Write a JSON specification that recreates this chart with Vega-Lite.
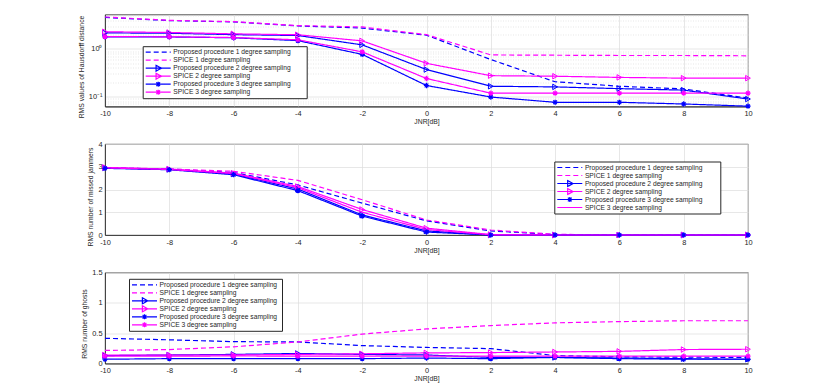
{
  "$schema": "https://vega.github.io/schema/vega-lite/v6.json",
  "padding": {"left": 77, "top": 10.5, "right": 5, "bottom": 5},
  "background": "white",
  "config": {
    "font": "Liberation Sans",
    "view": {"stroke": "#262626", "strokeWidth": 0.8},
    "axis": {"labelFont": "Liberation Sans", "labelFontSize": 7.4, "labelColor": "#262626", "titleFont": "Liberation Sans", "titleFontSize": 6.8, "titleFontWeight": "normal", "titleColor": "#262626", "domainColor": "#262626", "domainWidth": 0.8, "gridColor": "#dcdcdc", "gridWidth": 0.7, "ticks": false, "labelPadding": 3, "labelFlush": false, "labelOverlap": false},
    "legend": {"labelFont": "Liberation Sans", "labelFontSize": 6.7, "labelColor": "#262626", "symbolSize": 625, "clipHeight": 8.0, "rowPadding": 0, "labelOffset": 1.6, "padding": 2, "labelLimit": 400, "strokeColor": "#262626", "fillColor": "white", "symbolStrokeWidth": 1.2, "symbolFillColor": "transparent", "orient": "none", "titleOrient": "right", "titleFontSize": 6.7, "titleFont": "Liberation Sans"}
  },
  "datasets": {
    "haus": [
      {"s": "Proposed procedure 1 degree sampling", "x": -10, "y": 4.6}, {"s": "Proposed procedure 1 degree sampling", "x": -8, "y": 3.95}, {"s": "Proposed procedure 1 degree sampling", "x": -6, "y": 3.7}, {"s": "Proposed procedure 1 degree sampling", "x": -4, "y": 3.05}, {"s": "Proposed procedure 1 degree sampling", "x": -2, "y": 2.75}, {"s": "Proposed procedure 1 degree sampling", "x": 0, "y": 1.95}, {"s": "Proposed procedure 1 degree sampling", "x": 2, "y": 0.6}, {"s": "Proposed procedure 1 degree sampling", "x": 4, "y": 0.205}, {"s": "Proposed procedure 1 degree sampling", "x": 6, "y": 0.165}, {"s": "Proposed procedure 1 degree sampling", "x": 8, "y": 0.145}, {"s": "Proposed procedure 1 degree sampling", "x": 10, "y": 0.093},
      {"s": "SPICE 1 degree sampling", "x": -10, "y": 4.7}, {"s": "SPICE 1 degree sampling", "x": -8, "y": 4.0}, {"s": "SPICE 1 degree sampling", "x": -6, "y": 3.75}, {"s": "SPICE 1 degree sampling", "x": -4, "y": 3.1}, {"s": "SPICE 1 degree sampling", "x": -2, "y": 2.9}, {"s": "SPICE 1 degree sampling", "x": 0, "y": 2.0}, {"s": "SPICE 1 degree sampling", "x": 2, "y": 0.75}, {"s": "SPICE 1 degree sampling", "x": 4, "y": 0.74}, {"s": "SPICE 1 degree sampling", "x": 6, "y": 0.73}, {"s": "SPICE 1 degree sampling", "x": 8, "y": 0.73}, {"s": "SPICE 1 degree sampling", "x": 10, "y": 0.72},
      {"s": "Proposed procedure 2 degree sampling", "x": -10, "y": 2.18}, {"s": "Proposed procedure 2 degree sampling", "x": -8, "y": 2.14}, {"s": "Proposed procedure 2 degree sampling", "x": -6, "y": 2.0}, {"s": "Proposed procedure 2 degree sampling", "x": -4, "y": 1.92}, {"s": "Proposed procedure 2 degree sampling", "x": -2, "y": 1.22}, {"s": "Proposed procedure 2 degree sampling", "x": 0, "y": 0.37}, {"s": "Proposed procedure 2 degree sampling", "x": 2, "y": 0.165}, {"s": "Proposed procedure 2 degree sampling", "x": 4, "y": 0.16}, {"s": "Proposed procedure 2 degree sampling", "x": 6, "y": 0.147}, {"s": "Proposed procedure 2 degree sampling", "x": 8, "y": 0.137}, {"s": "Proposed procedure 2 degree sampling", "x": 10, "y": 0.089},
      {"s": "SPICE 2 degree sampling", "x": -10, "y": 2.3}, {"s": "SPICE 2 degree sampling", "x": -8, "y": 2.22}, {"s": "SPICE 2 degree sampling", "x": -6, "y": 2.08}, {"s": "SPICE 2 degree sampling", "x": -4, "y": 1.99}, {"s": "SPICE 2 degree sampling", "x": -2, "y": 1.48}, {"s": "SPICE 2 degree sampling", "x": 0, "y": 0.5}, {"s": "SPICE 2 degree sampling", "x": 2, "y": 0.275}, {"s": "SPICE 2 degree sampling", "x": 4, "y": 0.268}, {"s": "SPICE 2 degree sampling", "x": 6, "y": 0.253}, {"s": "SPICE 2 degree sampling", "x": 8, "y": 0.244}, {"s": "SPICE 2 degree sampling", "x": 10, "y": 0.244},
      {"s": "Proposed procedure 3 degree sampling", "x": -10, "y": 1.8}, {"s": "Proposed procedure 3 degree sampling", "x": -8, "y": 1.79}, {"s": "Proposed procedure 3 degree sampling", "x": -6, "y": 1.72}, {"s": "Proposed procedure 3 degree sampling", "x": -4, "y": 1.5}, {"s": "Proposed procedure 3 degree sampling", "x": -2, "y": 0.77}, {"s": "Proposed procedure 3 degree sampling", "x": 0, "y": 0.171}, {"s": "Proposed procedure 3 degree sampling", "x": 2, "y": 0.098}, {"s": "Proposed procedure 3 degree sampling", "x": 4, "y": 0.076}, {"s": "Proposed procedure 3 degree sampling", "x": 6, "y": 0.076}, {"s": "Proposed procedure 3 degree sampling", "x": 8, "y": 0.07}, {"s": "Proposed procedure 3 degree sampling", "x": 10, "y": 0.063},
      {"s": "SPICE 3 degree sampling", "x": -10, "y": 1.82}, {"s": "SPICE 3 degree sampling", "x": -8, "y": 1.8}, {"s": "SPICE 3 degree sampling", "x": -6, "y": 1.74}, {"s": "SPICE 3 degree sampling", "x": -4, "y": 1.56}, {"s": "SPICE 3 degree sampling", "x": -2, "y": 0.87}, {"s": "SPICE 3 degree sampling", "x": 0, "y": 0.24}, {"s": "SPICE 3 degree sampling", "x": 2, "y": 0.118}, {"s": "SPICE 3 degree sampling", "x": 4, "y": 0.118}, {"s": "SPICE 3 degree sampling", "x": 6, "y": 0.118}, {"s": "SPICE 3 degree sampling", "x": 8, "y": 0.118}, {"s": "SPICE 3 degree sampling", "x": 10, "y": 0.118}
    ],
    "missed": [
      {"s": "Proposed procedure 1 degree sampling", "x": -10, "y": 2.95}, {"s": "Proposed procedure 1 degree sampling", "x": -8, "y": 2.9}, {"s": "Proposed procedure 1 degree sampling", "x": -6, "y": 2.75}, {"s": "Proposed procedure 1 degree sampling", "x": -4, "y": 2.2}, {"s": "Proposed procedure 1 degree sampling", "x": -2, "y": 1.4}, {"s": "Proposed procedure 1 degree sampling", "x": 0, "y": 0.62}, {"s": "Proposed procedure 1 degree sampling", "x": 2, "y": 0.18}, {"s": "Proposed procedure 1 degree sampling", "x": 4, "y": 0.02}, {"s": "Proposed procedure 1 degree sampling", "x": 6, "y": 0}, {"s": "Proposed procedure 1 degree sampling", "x": 8, "y": 0}, {"s": "Proposed procedure 1 degree sampling", "x": 10, "y": 0},
      {"s": "SPICE 1 degree sampling", "x": -10, "y": 2.95}, {"s": "SPICE 1 degree sampling", "x": -8, "y": 2.9}, {"s": "SPICE 1 degree sampling", "x": -6, "y": 2.8}, {"s": "SPICE 1 degree sampling", "x": -4, "y": 2.4}, {"s": "SPICE 1 degree sampling", "x": -2, "y": 1.55}, {"s": "SPICE 1 degree sampling", "x": 0, "y": 0.66}, {"s": "SPICE 1 degree sampling", "x": 2, "y": 0.22}, {"s": "SPICE 1 degree sampling", "x": 4, "y": 0.03}, {"s": "SPICE 1 degree sampling", "x": 6, "y": 0}, {"s": "SPICE 1 degree sampling", "x": 8, "y": 0}, {"s": "SPICE 1 degree sampling", "x": 10, "y": 0},
      {"s": "Proposed procedure 2 degree sampling", "x": -10, "y": 2.95}, {"s": "Proposed procedure 2 degree sampling", "x": -8, "y": 2.88}, {"s": "Proposed procedure 2 degree sampling", "x": -6, "y": 2.68}, {"s": "Proposed procedure 2 degree sampling", "x": -4, "y": 2.02}, {"s": "Proposed procedure 2 degree sampling", "x": -2, "y": 0.88}, {"s": "Proposed procedure 2 degree sampling", "x": 0, "y": 0.18}, {"s": "Proposed procedure 2 degree sampling", "x": 2, "y": 0}, {"s": "Proposed procedure 2 degree sampling", "x": 4, "y": 0}, {"s": "Proposed procedure 2 degree sampling", "x": 6, "y": 0}, {"s": "Proposed procedure 2 degree sampling", "x": 8, "y": 0}, {"s": "Proposed procedure 2 degree sampling", "x": 10, "y": 0},
      {"s": "SPICE 2 degree sampling", "x": -10, "y": 2.97}, {"s": "SPICE 2 degree sampling", "x": -8, "y": 2.9}, {"s": "SPICE 2 degree sampling", "x": -6, "y": 2.72}, {"s": "SPICE 2 degree sampling", "x": -4, "y": 2.13}, {"s": "SPICE 2 degree sampling", "x": -2, "y": 1.12}, {"s": "SPICE 2 degree sampling", "x": 0, "y": 0.3}, {"s": "SPICE 2 degree sampling", "x": 2, "y": 0.02}, {"s": "SPICE 2 degree sampling", "x": 4, "y": 0}, {"s": "SPICE 2 degree sampling", "x": 6, "y": 0}, {"s": "SPICE 2 degree sampling", "x": 8, "y": 0}, {"s": "SPICE 2 degree sampling", "x": 10, "y": 0},
      {"s": "Proposed procedure 3 degree sampling", "x": -10, "y": 2.93}, {"s": "Proposed procedure 3 degree sampling", "x": -8, "y": 2.87}, {"s": "Proposed procedure 3 degree sampling", "x": -6, "y": 2.65}, {"s": "Proposed procedure 3 degree sampling", "x": -4, "y": 1.95}, {"s": "Proposed procedure 3 degree sampling", "x": -2, "y": 0.83}, {"s": "Proposed procedure 3 degree sampling", "x": 0, "y": 0.13}, {"s": "Proposed procedure 3 degree sampling", "x": 2, "y": 0}, {"s": "Proposed procedure 3 degree sampling", "x": 4, "y": 0}, {"s": "Proposed procedure 3 degree sampling", "x": 6, "y": 0}, {"s": "Proposed procedure 3 degree sampling", "x": 8, "y": 0}, {"s": "Proposed procedure 3 degree sampling", "x": 10, "y": 0},
      {"s": "SPICE 3 degree sampling", "x": -10, "y": 2.95}, {"s": "SPICE 3 degree sampling", "x": -8, "y": 2.88}, {"s": "SPICE 3 degree sampling", "x": -6, "y": 2.7}, {"s": "SPICE 3 degree sampling", "x": -4, "y": 2.08}, {"s": "SPICE 3 degree sampling", "x": -2, "y": 1.0}, {"s": "SPICE 3 degree sampling", "x": 0, "y": 0.24}, {"s": "SPICE 3 degree sampling", "x": 2, "y": 0.01}, {"s": "SPICE 3 degree sampling", "x": 4, "y": 0}, {"s": "SPICE 3 degree sampling", "x": 6, "y": 0}, {"s": "SPICE 3 degree sampling", "x": 8, "y": 0}, {"s": "SPICE 3 degree sampling", "x": 10, "y": 0}
    ],
    "ghosts": [
      {"s": "Proposed procedure 1 degree sampling", "x": -10, "y": 0.415}, {"s": "Proposed procedure 1 degree sampling", "x": -8, "y": 0.39}, {"s": "Proposed procedure 1 degree sampling", "x": -6, "y": 0.36}, {"s": "Proposed procedure 1 degree sampling", "x": -4, "y": 0.355}, {"s": "Proposed procedure 1 degree sampling", "x": -2, "y": 0.295}, {"s": "Proposed procedure 1 degree sampling", "x": 0, "y": 0.265}, {"s": "Proposed procedure 1 degree sampling", "x": 2, "y": 0.245}, {"s": "Proposed procedure 1 degree sampling", "x": 4, "y": 0.13}, {"s": "Proposed procedure 1 degree sampling", "x": 6, "y": 0.11}, {"s": "Proposed procedure 1 degree sampling", "x": 8, "y": 0.105}, {"s": "Proposed procedure 1 degree sampling", "x": 10, "y": 0.1},
      {"s": "SPICE 1 degree sampling", "x": -10, "y": 0.215}, {"s": "SPICE 1 degree sampling", "x": -8, "y": 0.23}, {"s": "SPICE 1 degree sampling", "x": -6, "y": 0.275}, {"s": "SPICE 1 degree sampling", "x": -4, "y": 0.355}, {"s": "SPICE 1 degree sampling", "x": -2, "y": 0.485}, {"s": "SPICE 1 degree sampling", "x": 0, "y": 0.57}, {"s": "SPICE 1 degree sampling", "x": 2, "y": 0.625}, {"s": "SPICE 1 degree sampling", "x": 4, "y": 0.67}, {"s": "SPICE 1 degree sampling", "x": 6, "y": 0.69}, {"s": "SPICE 1 degree sampling", "x": 8, "y": 0.705}, {"s": "SPICE 1 degree sampling", "x": 10, "y": 0.705},
      {"s": "Proposed procedure 2 degree sampling", "x": -10, "y": 0.13}, {"s": "Proposed procedure 2 degree sampling", "x": -8, "y": 0.14}, {"s": "Proposed procedure 2 degree sampling", "x": -6, "y": 0.15}, {"s": "Proposed procedure 2 degree sampling", "x": -4, "y": 0.165}, {"s": "Proposed procedure 2 degree sampling", "x": -2, "y": 0.15}, {"s": "Proposed procedure 2 degree sampling", "x": 0, "y": 0.14}, {"s": "Proposed procedure 2 degree sampling", "x": 2, "y": 0.1}, {"s": "Proposed procedure 2 degree sampling", "x": 4, "y": 0.1}, {"s": "Proposed procedure 2 degree sampling", "x": 6, "y": 0.09}, {"s": "Proposed procedure 2 degree sampling", "x": 8, "y": 0.08}, {"s": "Proposed procedure 2 degree sampling", "x": 10, "y": 0.07},
      {"s": "SPICE 2 degree sampling", "x": -10, "y": 0.14}, {"s": "SPICE 2 degree sampling", "x": -8, "y": 0.14}, {"s": "SPICE 2 degree sampling", "x": -6, "y": 0.14}, {"s": "SPICE 2 degree sampling", "x": -4, "y": 0.15}, {"s": "SPICE 2 degree sampling", "x": -2, "y": 0.16}, {"s": "SPICE 2 degree sampling", "x": 0, "y": 0.175}, {"s": "SPICE 2 degree sampling", "x": 2, "y": 0.18}, {"s": "SPICE 2 degree sampling", "x": 4, "y": 0.19}, {"s": "SPICE 2 degree sampling", "x": 6, "y": 0.2}, {"s": "SPICE 2 degree sampling", "x": 8, "y": 0.23}, {"s": "SPICE 2 degree sampling", "x": 10, "y": 0.235},
      {"s": "Proposed procedure 3 degree sampling", "x": -10, "y": 0.07}, {"s": "Proposed procedure 3 degree sampling", "x": -8, "y": 0.08}, {"s": "Proposed procedure 3 degree sampling", "x": -6, "y": 0.08}, {"s": "Proposed procedure 3 degree sampling", "x": -4, "y": 0.08}, {"s": "Proposed procedure 3 degree sampling", "x": -2, "y": 0.08}, {"s": "Proposed procedure 3 degree sampling", "x": 0, "y": 0.09}, {"s": "Proposed procedure 3 degree sampling", "x": 2, "y": 0.08}, {"s": "Proposed procedure 3 degree sampling", "x": 4, "y": 0.1}, {"s": "Proposed procedure 3 degree sampling", "x": 6, "y": 0.08}, {"s": "Proposed procedure 3 degree sampling", "x": 8, "y": 0.07}, {"s": "Proposed procedure 3 degree sampling", "x": 10, "y": 0.07},
      {"s": "SPICE 3 degree sampling", "x": -10, "y": 0.12}, {"s": "SPICE 3 degree sampling", "x": -8, "y": 0.12}, {"s": "SPICE 3 degree sampling", "x": -6, "y": 0.125}, {"s": "SPICE 3 degree sampling", "x": -4, "y": 0.12}, {"s": "SPICE 3 degree sampling", "x": -2, "y": 0.12}, {"s": "SPICE 3 degree sampling", "x": 0, "y": 0.12}, {"s": "SPICE 3 degree sampling", "x": 2, "y": 0.12}, {"s": "SPICE 3 degree sampling", "x": 4, "y": 0.12}, {"s": "SPICE 3 degree sampling", "x": 6, "y": 0.12}, {"s": "SPICE 3 degree sampling", "x": 8, "y": 0.12}, {"s": "SPICE 3 degree sampling", "x": 10, "y": 0.12}
    ]
  },
  "vconcat": [
    {
      "width": 643, "height": 92,
      "data": {"name": "haus"},
      "encoding": {
        "x": {"field": "x", "type": "quantitative", "scale": {"domain": [-10, 10], "nice": false, "zero": false}, "axis": {"title": "JNR[dB]", "values": [-10, -8, -6, -4, -2, 0, 2, 4, 6, 8, 10], "labelExpr": "'' + datum.value", "titlePadding": 2}},
        "y": {"field": "y", "type": "quantitative", "scale": {"type": "log", "domain": [0.062, 5.3], "nice": false, "zero": false}, "axis": {"title": "RMS values of Hausdorff distance", "titleY": 52, "values": [0.07, 0.08, 0.09, 0.1, 0.2, 0.3, 0.4, 0.5, 0.6, 0.7, 0.8, 0.9, 1, 2, 3, 4, 5], "labelExpr": "datum.value == 1 ? '10\u2070' : (datum.value == 0.1 ? '10\u207b\u00b9' : '')", "gridDash": {"condition": {"test": "datum.value == 1 || datum.value == 0.1", "value": []}, "value": [1, 1.5]}, "titlePadding": 4}}
      },
      "layer": [
        {"mark": {"type": "line", "strokeWidth": 1.2, "clip": false},
         "encoding": {
           "color": {"field": "s", "type": "nominal", "scale": {"domain": ["Proposed procedure 1 degree sampling", "SPICE 1 degree sampling", "Proposed procedure 2 degree sampling", "SPICE 2 degree sampling", "Proposed procedure 3 degree sampling", "SPICE 3 degree sampling"], "range": ["#0000ff", "#ff00ff", "#0000ff", "#ff00ff", "#0000ff", "#ff00ff"]}},
           "strokeDash": {"field": "s", "type": "nominal", "scale": {"domain": ["Proposed procedure 1 degree sampling", "SPICE 1 degree sampling", "Proposed procedure 2 degree sampling", "SPICE 2 degree sampling", "Proposed procedure 3 degree sampling", "SPICE 3 degree sampling"], "range": [[5, 3], [5, 3], [1, 0], [1, 0], [1, 0], [1, 0]]}}
         }},
        {"transform": [{"filter": {"field": "s", "oneOf": ["Proposed procedure 2 degree sampling", "SPICE 2 degree sampling"]}}],
         "mark": {"type": "point", "shape": "triangle-right", "size": 30, "strokeWidth": 1, "filled": false, "opacity": 1},
         "encoding": {"color": {"field": "s", "type": "nominal", "scale": {"domain": ["Proposed procedure 1 degree sampling", "SPICE 1 degree sampling", "Proposed procedure 2 degree sampling", "SPICE 2 degree sampling", "Proposed procedure 3 degree sampling", "SPICE 3 degree sampling"], "range": ["#0000ff", "#ff00ff", "#0000ff", "#ff00ff", "#0000ff", "#ff00ff"]}}}},
        {"transform": [{"filter": {"field": "s", "oneOf": ["Proposed procedure 3 degree sampling", "SPICE 3 degree sampling"]}}],
         "mark": {"type": "point", "shape": "M-1,0H1M0,-1V1M-0.7,-0.7L0.7,0.7M-0.7,0.7L0.7,-0.7", "size": 28, "strokeWidth": 1.2, "filled": false, "opacity": 1},
         "encoding": {"color": {"field": "s", "type": "nominal", "scale": {"domain": ["Proposed procedure 1 degree sampling", "SPICE 1 degree sampling", "Proposed procedure 2 degree sampling", "SPICE 2 degree sampling", "Proposed procedure 3 degree sampling", "SPICE 3 degree sampling"], "range": ["#0000ff", "#ff00ff", "#0000ff", "#ff00ff", "#0000ff", "#ff00ff"]}}}},
        {"transform": [{"filter": "false"}],
         "mark": {"type": "point", "filled": false, "opacity": 1},
         "encoding": {
           "color": {"field": "s", "type": "nominal", "scale": {"domain": ["Proposed procedure 1 degree sampling", "SPICE 1 degree sampling", "Proposed procedure 2 degree sampling", "SPICE 2 degree sampling", "Proposed procedure 3 degree sampling", "SPICE 3 degree sampling"], "range": ["#0000ff", "#ff00ff", "#0000ff", "#ff00ff", "#0000ff", "#ff00ff"]}, "legend": {"title": "\u00a0", "titlePadding": 13.8, "legendX": 37.7, "legendY": 31.7}},
           "strokeDash": {"field": "s", "type": "nominal", "scale": {"domain": ["Proposed procedure 1 degree sampling", "SPICE 1 degree sampling", "Proposed procedure 2 degree sampling", "SPICE 2 degree sampling", "Proposed procedure 3 degree sampling", "SPICE 3 degree sampling"], "range": [[5, 3], [5, 3], [1, 0], [1, 0], [1, 0], [1, 0]]}, "legend": {"title": "\u00a0", "titlePadding": 13.8, "legendX": 37.7, "legendY": 31.7}},
           "shape": {"field": "s", "type": "nominal", "scale": {"domain": ["Proposed procedure 1 degree sampling", "SPICE 1 degree sampling", "Proposed procedure 2 degree sampling", "SPICE 2 degree sampling", "Proposed procedure 3 degree sampling", "SPICE 3 degree sampling"], "range": ["M-1,0H1", "M-1,0H1", "M-1,0H1M-0.17,-0.24L0.26,0L-0.17,0.24Z", "M-1,0H1M-0.17,-0.24L0.26,0L-0.17,0.24Z", "M-1,0H1M0,-0.2V0.2M-0.15,-0.15L0.15,0.15M-0.15,0.15L0.15,-0.15", "M-1,0H1M0,-0.2V0.2M-0.15,-0.15L0.15,0.15M-0.15,0.15L0.15,-0.15"]}, "legend": {"title": "\u00a0", "titlePadding": 13.8, "legendX": 37.7, "legendY": 31.7}}
         }}
      ]
    },
    {
      "width": 643, "height": 91,
      "data": {"name": "missed"},
      "encoding": {
        "x": {"field": "x", "type": "quantitative", "scale": {"domain": [-10, 10], "nice": false, "zero": false}, "axis": {"title": "JNR[dB]", "values": [-10, -8, -6, -4, -2, 0, 2, 4, 6, 8, 10], "labelExpr": "'' + datum.value", "titlePadding": 2}},
        "y": {"field": "y", "type": "quantitative", "scale": {"domain": [0, 4], "nice": false}, "axis": {"title": "RMS number of missed jammers", "titleY": 52.5, "values": [0, 1, 2, 3, 4], "labelExpr": "'' + datum.value", "titlePadding": 4}}
      },
      "layer": [
        {"mark": {"type": "line", "strokeWidth": 1.2, "clip": false},
         "encoding": {
           "color": {"field": "s", "type": "nominal", "scale": {"domain": ["Proposed procedure 1 degree sampling", "SPICE 1 degree sampling", "Proposed procedure 2 degree sampling", "SPICE 2 degree sampling", "Proposed procedure 3 degree sampling", "SPICE 3 degree sampling"], "range": ["#0000ff", "#ff00ff", "#0000ff", "#ff00ff", "#0000ff", "#ff00ff"]}},
           "strokeDash": {"field": "s", "type": "nominal", "scale": {"domain": ["Proposed procedure 1 degree sampling", "SPICE 1 degree sampling", "Proposed procedure 2 degree sampling", "SPICE 2 degree sampling", "Proposed procedure 3 degree sampling", "SPICE 3 degree sampling"], "range": [[5, 3], [5, 3], [1, 0], [1, 0], [1, 0], [1, 0]]}}
         }},
        {"transform": [{"filter": {"field": "s", "oneOf": ["Proposed procedure 2 degree sampling", "SPICE 2 degree sampling"]}}],
         "mark": {"type": "point", "shape": "triangle-right", "size": 30, "strokeWidth": 1, "filled": false, "opacity": 1},
         "encoding": {"color": {"field": "s", "type": "nominal", "scale": {"domain": ["Proposed procedure 1 degree sampling", "SPICE 1 degree sampling", "Proposed procedure 2 degree sampling", "SPICE 2 degree sampling", "Proposed procedure 3 degree sampling", "SPICE 3 degree sampling"], "range": ["#0000ff", "#ff00ff", "#0000ff", "#ff00ff", "#0000ff", "#ff00ff"]}}}},
        {"transform": [{"filter": {"field": "s", "oneOf": ["Proposed procedure 3 degree sampling"]}}],
         "mark": {"type": "point", "shape": "M-1,0H1M0,-1V1M-0.7,-0.7L0.7,0.7M-0.7,0.7L0.7,-0.7", "size": 28, "strokeWidth": 1.2, "filled": false, "opacity": 1},
         "encoding": {"color": {"field": "s", "type": "nominal", "scale": {"domain": ["Proposed procedure 1 degree sampling", "SPICE 1 degree sampling", "Proposed procedure 2 degree sampling", "SPICE 2 degree sampling", "Proposed procedure 3 degree sampling", "SPICE 3 degree sampling"], "range": ["#0000ff", "#ff00ff", "#0000ff", "#ff00ff", "#0000ff", "#ff00ff"]}}}},
        {"transform": [{"filter": "false"}],
         "mark": {"type": "point", "filled": false, "opacity": 1},
         "encoding": {
           "color": {"field": "s", "type": "nominal", "scale": {"domain": ["Proposed procedure 1 degree sampling", "SPICE 1 degree sampling", "Proposed procedure 2 degree sampling", "SPICE 2 degree sampling", "Proposed procedure 3 degree sampling", "SPICE 3 degree sampling"], "range": ["#0000ff", "#ff00ff", "#0000ff", "#ff00ff", "#0000ff", "#ff00ff"]}, "legend": {"title": "\u00a0", "titlePadding": 15.5, "legendX": 449.3, "legendY": 17.5}},
           "strokeDash": {"field": "s", "type": "nominal", "scale": {"domain": ["Proposed procedure 1 degree sampling", "SPICE 1 degree sampling", "Proposed procedure 2 degree sampling", "SPICE 2 degree sampling", "Proposed procedure 3 degree sampling", "SPICE 3 degree sampling"], "range": [[5, 3], [5, 3], [1, 0], [1, 0], [1, 0], [1, 0]]}, "legend": {"title": "\u00a0", "titlePadding": 15.5, "legendX": 449.3, "legendY": 17.5}},
           "shape": {"field": "s", "type": "nominal", "scale": {"domain": ["Proposed procedure 1 degree sampling", "SPICE 1 degree sampling", "Proposed procedure 2 degree sampling", "SPICE 2 degree sampling", "Proposed procedure 3 degree sampling", "SPICE 3 degree sampling"], "range": ["M-1,0H1", "M-1,0H1", "M-1,0H1M-0.17,-0.24L0.26,0L-0.17,0.24Z", "M-1,0H1M-0.17,-0.24L0.26,0L-0.17,0.24Z", "M-1,0H1M0,-0.2V0.2M-0.15,-0.15L0.15,0.15M-0.15,0.15L0.15,-0.15", "M-1,0H1"]}, "legend": {"title": "\u00a0", "titlePadding": 15.5, "legendX": 449.3, "legendY": 17.5}}
         }}
      ]
    },
    {
      "width": 643, "height": 91,
      "data": {"name": "ghosts"},
      "encoding": {
        "x": {"field": "x", "type": "quantitative", "scale": {"domain": [-10, 10], "nice": false, "zero": false}, "axis": {"title": "JNR[dB]", "values": [-10, -8, -6, -4, -2, 0, 2, 4, 6, 8, 10], "labelExpr": "'' + datum.value", "titlePadding": 2}},
        "y": {"field": "y", "type": "quantitative", "scale": {"domain": [0, 1.5], "nice": false}, "axis": {"title": "RMS number of ghosts", "titleY": 51, "values": [0, 0.5, 1, 1.5], "labelExpr": "'' + datum.value", "titlePadding": 4}}
      },
      "layer": [
        {"mark": {"type": "line", "strokeWidth": 1.2, "clip": false},
         "encoding": {
           "color": {"field": "s", "type": "nominal", "scale": {"domain": ["Proposed procedure 1 degree sampling", "SPICE 1 degree sampling", "Proposed procedure 2 degree sampling", "SPICE 2 degree sampling", "Proposed procedure 3 degree sampling", "SPICE 3 degree sampling"], "range": ["#0000ff", "#ff00ff", "#0000ff", "#ff00ff", "#0000ff", "#ff00ff"]}},
           "strokeDash": {"field": "s", "type": "nominal", "scale": {"domain": ["Proposed procedure 1 degree sampling", "SPICE 1 degree sampling", "Proposed procedure 2 degree sampling", "SPICE 2 degree sampling", "Proposed procedure 3 degree sampling", "SPICE 3 degree sampling"], "range": [[5, 3], [5, 3], [1, 0], [1, 0], [1, 0], [1, 0]]}}
         }},
        {"transform": [{"filter": {"field": "s", "oneOf": ["Proposed procedure 2 degree sampling", "SPICE 2 degree sampling"]}}],
         "mark": {"type": "point", "shape": "triangle-right", "size": 30, "strokeWidth": 1, "filled": false, "opacity": 1},
         "encoding": {"color": {"field": "s", "type": "nominal", "scale": {"domain": ["Proposed procedure 1 degree sampling", "SPICE 1 degree sampling", "Proposed procedure 2 degree sampling", "SPICE 2 degree sampling", "Proposed procedure 3 degree sampling", "SPICE 3 degree sampling"], "range": ["#0000ff", "#ff00ff", "#0000ff", "#ff00ff", "#0000ff", "#ff00ff"]}}}},
        {"transform": [{"filter": {"field": "s", "oneOf": ["Proposed procedure 3 degree sampling", "SPICE 3 degree sampling"]}}],
         "mark": {"type": "point", "shape": "M-1,0H1M0,-1V1M-0.7,-0.7L0.7,0.7M-0.7,0.7L0.7,-0.7", "size": 28, "strokeWidth": 1.2, "filled": false, "opacity": 1},
         "encoding": {"color": {"field": "s", "type": "nominal", "scale": {"domain": ["Proposed procedure 1 degree sampling", "SPICE 1 degree sampling", "Proposed procedure 2 degree sampling", "SPICE 2 degree sampling", "Proposed procedure 3 degree sampling", "SPICE 3 degree sampling"], "range": ["#0000ff", "#ff00ff", "#0000ff", "#ff00ff", "#0000ff", "#ff00ff"]}}}},
        {"transform": [{"filter": "false"}],
         "mark": {"type": "point", "filled": false, "opacity": 1},
         "encoding": {
           "color": {"field": "s", "type": "nominal", "scale": {"domain": ["Proposed procedure 1 degree sampling", "SPICE 1 degree sampling", "Proposed procedure 2 degree sampling", "SPICE 2 degree sampling", "Proposed procedure 3 degree sampling", "SPICE 3 degree sampling"], "range": ["#0000ff", "#ff00ff", "#0000ff", "#ff00ff", "#0000ff", "#ff00ff"]}, "legend": {"title": "\u00a0", "titlePadding": 2.8, "legendX": 24, "legendY": 6.3}},
           "strokeDash": {"field": "s", "type": "nominal", "scale": {"domain": ["Proposed procedure 1 degree sampling", "SPICE 1 degree sampling", "Proposed procedure 2 degree sampling", "SPICE 2 degree sampling", "Proposed procedure 3 degree sampling", "SPICE 3 degree sampling"], "range": [[5, 3], [5, 3], [1, 0], [1, 0], [1, 0], [1, 0]]}, "legend": {"title": "\u00a0", "titlePadding": 2.8, "legendX": 24, "legendY": 6.3}},
           "shape": {"field": "s", "type": "nominal", "scale": {"domain": ["Proposed procedure 1 degree sampling", "SPICE 1 degree sampling", "Proposed procedure 2 degree sampling", "SPICE 2 degree sampling", "Proposed procedure 3 degree sampling", "SPICE 3 degree sampling"], "range": ["M-1,0H1", "M-1,0H1", "M-1,0H1M-0.17,-0.24L0.26,0L-0.17,0.24Z", "M-1,0H1M-0.17,-0.24L0.26,0L-0.17,0.24Z", "M-1,0H1M0,-0.2V0.2M-0.15,-0.15L0.15,0.15M-0.15,0.15L0.15,-0.15", "M-1,0H1M0,-0.2V0.2M-0.15,-0.15L0.15,0.15M-0.15,0.15L0.15,-0.15"]}, "legend": {"title": "\u00a0", "titlePadding": 2.8, "legendX": 24, "legendY": 6.3}}
         }}
      ]
    }
  ],
  "spacing": 37.5,
  "bounds": "flush",
  "resolve": {"scale": {"color": "independent", "shape": "independent", "strokeDash": "independent"}}
}
